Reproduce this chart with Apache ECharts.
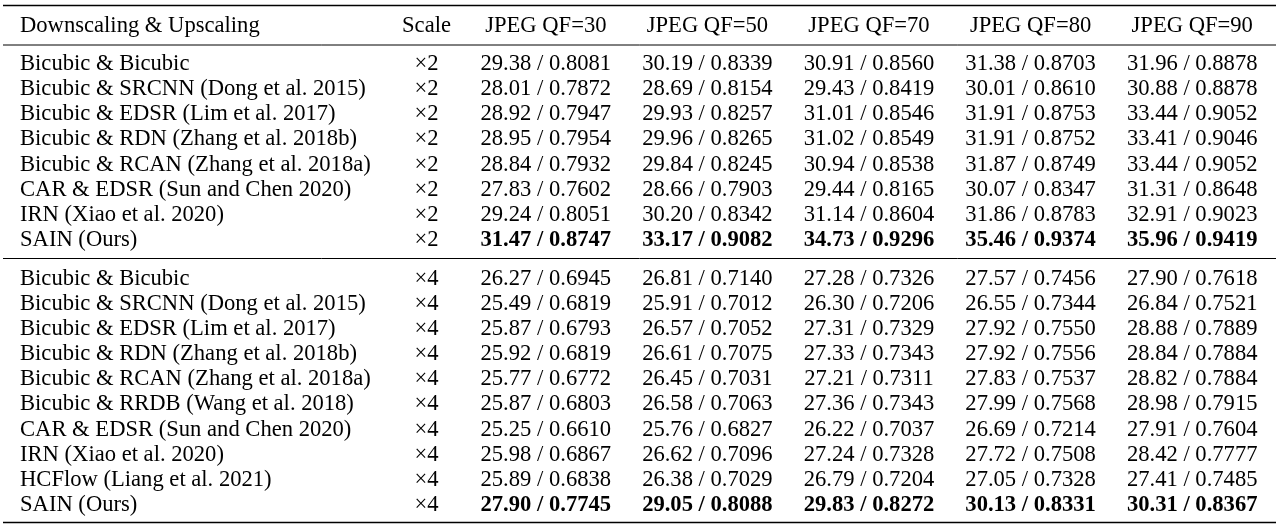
<!DOCTYPE html>
<html>
<head>
<meta charset="utf-8">
<script src="https://cdn.jsdelivr.net/npm/echarts@6/dist/echarts.min.js"></script>
<style>
html,body{margin:0;padding:0;background:#fff}
#main{width:1280px;height:531px}
</style>
</head>
<body>
<div id="main"></div>
<script>
// 表头
var headLeft = 'Downscaling & Upscaling';
var headScale = 'Scale';
var qfLabels = ['JPEG QF=30', 'JPEG QF=50', 'JPEG QF=70', 'JPEG QF=80', 'JPEG QF=90'];

// ×2 结果
var methodsX2 = ['Bicubic & Bicubic', 'Bicubic & SRCNN (Dong et al. 2015)', 'Bicubic & EDSR (Lim et al. 2017)',
  'Bicubic & RDN (Zhang et al. 2018b)', 'Bicubic & RCAN (Zhang et al. 2018a)', 'CAR & EDSR (Sun and Chen 2020)',
  'IRN (Xiao et al. 2020)', 'SAIN (Ours)'];
var psnrX2 = [
  [29.38, 30.19, 30.91, 31.38, 31.96],
  [28.01, 28.69, 29.43, 30.01, 30.88],
  [28.92, 29.93, 31.01, 31.91, 33.44],
  [28.95, 29.96, 31.02, 31.91, 33.41],
  [28.84, 29.84, 30.94, 31.87, 33.44],
  [27.83, 28.66, 29.44, 30.07, 31.31],
  [29.24, 30.20, 31.14, 31.86, 32.91],
  [31.47, 33.17, 34.73, 35.46, 35.96]
];
var ssimX2 = [
  [0.8081, 0.8339, 0.8560, 0.8703, 0.8878],
  [0.7872, 0.8154, 0.8419, 0.8610, 0.8878],
  [0.7947, 0.8257, 0.8546, 0.8753, 0.9052],
  [0.7954, 0.8265, 0.8549, 0.8752, 0.9046],
  [0.7932, 0.8245, 0.8538, 0.8749, 0.9052],
  [0.7602, 0.7903, 0.8165, 0.8347, 0.8648],
  [0.8051, 0.8342, 0.8604, 0.8783, 0.9023],
  [0.8747, 0.9082, 0.9296, 0.9374, 0.9419]
];

// ×4 结果
var methodsX4 = ['Bicubic & Bicubic', 'Bicubic & SRCNN (Dong et al. 2015)', 'Bicubic & EDSR (Lim et al. 2017)',
  'Bicubic & RDN (Zhang et al. 2018b)', 'Bicubic & RCAN (Zhang et al. 2018a)', 'Bicubic & RRDB (Wang et al. 2018)',
  'CAR & EDSR (Sun and Chen 2020)', 'IRN (Xiao et al. 2020)', 'HCFlow (Liang et al. 2021)', 'SAIN (Ours)'];
var psnrX4 = [
  [26.27, 26.81, 27.28, 27.57, 27.90],
  [25.49, 25.91, 26.30, 26.55, 26.84],
  [25.87, 26.57, 27.31, 27.92, 28.88],
  [25.92, 26.61, 27.33, 27.92, 28.84],
  [25.77, 26.45, 27.21, 27.83, 28.82],
  [25.87, 26.58, 27.36, 27.99, 28.98],
  [25.25, 25.76, 26.22, 26.69, 27.91],
  [25.98, 26.62, 27.24, 27.72, 28.42],
  [25.89, 26.38, 26.79, 27.05, 27.41],
  [27.90, 29.05, 29.83, 30.13, 30.31]
];
var ssimX4 = [
  [0.6945, 0.7140, 0.7326, 0.7456, 0.7618],
  [0.6819, 0.7012, 0.7206, 0.7344, 0.7521],
  [0.6793, 0.7052, 0.7329, 0.7550, 0.7889],
  [0.6819, 0.7075, 0.7343, 0.7556, 0.7884],
  [0.6772, 0.7031, 0.7311, 0.7537, 0.7884],
  [0.6803, 0.7063, 0.7343, 0.7568, 0.7915],
  [0.6610, 0.6827, 0.7037, 0.7214, 0.7604],
  [0.6867, 0.7096, 0.7328, 0.7508, 0.7777],
  [0.6838, 0.7029, 0.7204, 0.7328, 0.7485],
  [0.7745, 0.8088, 0.8272, 0.8331, 0.8367]
];

var FONT = 'Liberation Serif', FS = 22.6;
var gridL = 465, gridR = 7, labelX = 20;

// 每个单元格: [列, 行, psnr, ssim, 是否加粗]
function cells(psnr, ssim){
  var out = [];
  for (var c = 0; c < qfLabels.length; c++) {
    var best = -1, bi = -1;
    for (var r = 0; r < psnr.length; r++) if (psnr[r][c] > best) { best = psnr[r][c]; bi = r; }
    for (var r2 = 0; r2 < psnr.length; r2++) out.push([c, r2, psnr[r2][c], ssim[r2][c], r2 === bi ? 1 : 0]);
  }
  return out;
}

function rich(){
  return {
    m: {width: 376, align: 'left', fontFamily: FONT, fontSize: FS, color: '#000'},
    s: {width: 61, align: 'center', fontFamily: FONT, fontSize: FS, color: '#000'}
  };
}
function yAxis(idx, names, scale){
  return {
    type: 'category', gridIndex: idx, data: names, inverse: true,
    axisLine: {show: false}, axisTick: {show: false}, splitLine: {show: false},
    axisLabel: {
      align: 'left', margin: gridL - labelX,
      formatter: function(v){ return '{m|' + v + '}{s|' + scale + '}'; },
      rich: rich()
    }
  };
}
function xAxis(idx){
  return {type: 'category', gridIndex: idx, data: qfLabels, show: false};
}

function cellText(params, api){
  var p = api.coord([api.value(0), api.value(1)]);
  var bold = api.value(4) === 1;
  return {
    type: 'text', x: p[0], y: p[1],
    style: {
      text: api.value(2).toFixed(2) + ' / ' + api.value(3).toFixed(4),
      fill: '#000', fontFamily: FONT, fontSize: FS, fontWeight: bold ? 'bold' : 'normal',
      align: 'center', verticalAlign: 'middle'
    }
  };
}
function headText(params, api){
  var p = api.coord([api.value(0), 0]);
  return {
    type: 'text', x: p[0], y: p[1],
    style: {text: qfLabels[api.value(0)], fill: '#000', fontFamily: FONT, fontSize: FS,
      align: 'center', verticalAlign: 'middle'}
  };
}

var myChart = echarts.init(document.getElementById('main'));

// 表格横线
function rule(y, w){
  return {type: 'line', shape: {x1: 3, y1: y, x2: 1276, y2: y}, style: {stroke: '#000', lineWidth: w}};
}

var option = {
  animation: false,
  backgroundColor: '#fff',
  grid: [
    {left: gridL, right: gridR, top: 8, height: 37},
    {left: gridL, right: gridR, top: 51.5, height: 201},
    {left: gridL, right: gridR, top: 266.5, height: 251}
  ],
  xAxis: [xAxis(0), xAxis(1), xAxis(2)],
  yAxis: [
    yAxis(0, [headLeft], headScale),
    yAxis(1, methodsX2, '×2'),
    yAxis(2, methodsX4, '×4')
  ],
  series: [
    {type: 'custom', xAxisIndex: 0, yAxisIndex: 0, renderItem: headText,
      data: qfLabels.map(function(q, i){ return [i, 0]; })},
    {type: 'custom', xAxisIndex: 1, yAxisIndex: 1, renderItem: cellText, data: cells(psnrX2, ssimX2)},
    {type: 'custom', xAxisIndex: 2, yAxisIndex: 2, renderItem: cellText, data: cells(psnrX4, ssimX4)}
  ],
  graphic: [rule(5.5, 1.6), rule(45, 1), rule(258.5, 1), rule(522.5, 1.6)]
};
myChart.setOption(option);
</script>
</body>
</html>
